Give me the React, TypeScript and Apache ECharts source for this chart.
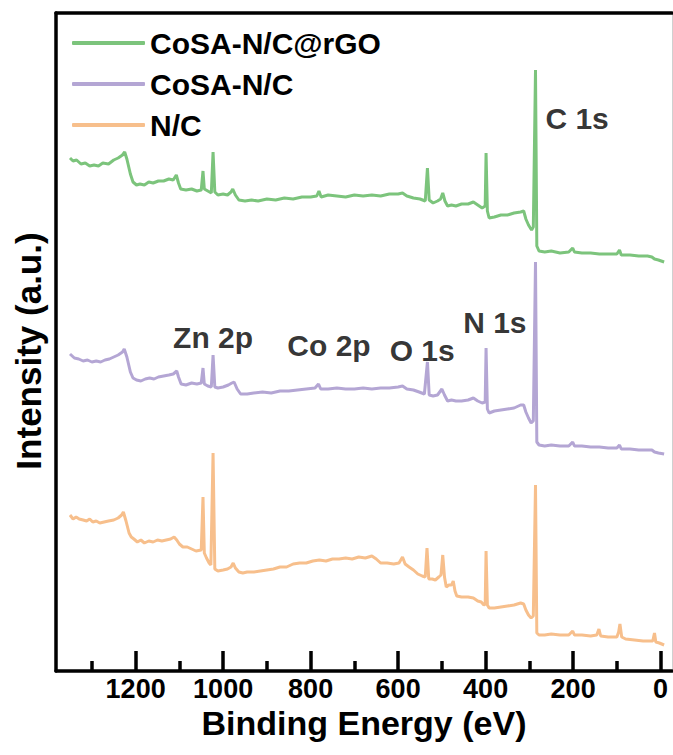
import React, { useEffect, useRef } from "react";
import * as echarts from "echarts";

const seriesNames = ["CoSA-N/C@rGO", "CoSA-N/C", "N/C"];
const seriesColors = ["#7cc47c", "#b4a6d4", "#f7bf8c"];

const majorTicks = [0, 200, 400, 600, 800, 1000, 1200];
const minorTicks = [100, 300, 500, 700, 900, 1100, 1300];

const peakLabels = ["C 1s", "Zn 2p", "Co 2p", "O 1s", "N 1s"];
const peakLabelPos = [
  [191, 553],
  [1023, 334],
  [758, 326],
  [545, 321],
  [379, 349],
];

// [binding energy (eV), intensity (a.u., stacked)]
const cosaRgo = [
  [1350, 513], [1343, 510], [1335, 511], [1325, 507], [1315, 508], [1305, 505], [1295, 506], [1285, 505],
  [1275, 508], [1262, 507], [1250, 511], [1240, 513], [1230, 516], [1225, 519], [1220, 512], [1212, 497],
  [1206, 489], [1198, 486], [1190, 487], [1180, 486], [1170, 489], [1160, 488], [1148, 490], [1136, 490],
  [1124, 492], [1114, 491], [1107, 496], [1102, 488], [1097, 482], [1085, 481], [1072, 482], [1060, 480],
  [1050, 481], [1046, 500], [1043, 482], [1035, 480], [1027, 478], [1023, 519], [1019, 479], [1012, 476],
  [1000, 477], [990, 476], [982, 479], [978, 482], [972, 476], [964, 471], [950, 470], [935, 471],
  [920, 470], [900, 472], [880, 471], [860, 473], [840, 472], [820, 474], [800, 474], [786, 475],
  [781, 480], [776, 474], [760, 476], [740, 475], [720, 474], [700, 476], [680, 475], [660, 476],
  [640, 475], [620, 477], [600, 477], [590, 478], [580, 475], [565, 473], [550, 472], [538, 470],
  [533, 503], [529, 471], [520, 468], [510, 470], [503, 472], [498, 478], [493, 470], [487, 465],
  [478, 466], [468, 465], [455, 467], [440, 467], [428, 469], [418, 466], [408, 463], [401, 465],
  [399, 518], [396, 460], [392, 453], [380, 454], [365, 456], [350, 456], [335, 458], [320, 459],
  [313, 460], [308, 452], [302, 446], [295, 441], [291, 444], [286, 601], [283, 425], [278, 420],
  [265, 419], [250, 420], [230, 418], [210, 419], [201, 423], [197, 419], [180, 418], [160, 418],
  [140, 417], [120, 417], [100, 417], [94, 421], [90, 416], [70, 416], [50, 415], [30, 415],
  [20, 414], [14, 412], [5, 411], [-8, 409],
];

const cosa = [
  [1350, 317], [1340, 313], [1330, 312], [1320, 310], [1310, 311], [1300, 309], [1290, 310], [1280, 309],
  [1270, 311], [1260, 312], [1250, 314], [1240, 316], [1230, 319], [1226, 322], [1220, 314], [1212, 299],
  [1206, 293], [1198, 291], [1188, 290], [1178, 292], [1168, 293], [1158, 292], [1148, 294], [1136, 295],
  [1124, 296], [1114, 297], [1106, 300], [1102, 294], [1096, 287], [1085, 286], [1072, 288], [1060, 287],
  [1050, 288], [1046, 303], [1043, 287], [1035, 285], [1027, 284], [1023, 316], [1019, 284], [1012, 283],
  [1000, 284], [988, 286], [980, 288], [975, 289], [968, 282], [960, 277], [945, 277], [930, 278],
  [910, 279], [890, 278], [870, 280], [850, 280], [830, 281], [810, 282], [790, 283], [782, 287],
  [777, 282], [760, 282], [740, 283], [720, 282], [700, 282], [680, 283], [660, 282], [640, 283],
  [620, 283], [600, 284], [590, 285], [580, 282], [565, 281], [552, 279], [540, 277], [533, 309],
  [529, 276], [520, 275], [510, 276], [500, 282], [494, 276], [487, 270], [478, 271], [468, 270],
  [455, 270], [440, 271], [428, 273], [418, 270], [408, 268], [401, 269], [399, 323], [396, 262],
  [392, 258], [380, 260], [365, 261], [350, 262], [335, 263], [320, 266], [313, 266], [308, 259],
  [302, 253], [296, 248], [291, 250], [286, 409], [283, 229], [278, 226], [265, 225], [250, 226],
  [230, 225], [210, 225], [201, 229], [197, 225], [180, 225], [160, 224], [140, 224], [120, 223],
  [100, 223], [94, 226], [90, 222], [70, 222], [50, 221], [30, 221], [20, 221], [14, 219],
  [5, 218], [-8, 217],
];

const nc = [
  [1350, 156], [1343, 152], [1336, 154], [1329, 152], [1320, 151], [1312, 150], [1305, 152], [1298, 149],
  [1290, 150], [1282, 148], [1272, 149], [1262, 150], [1250, 151], [1240, 153], [1232, 156], [1228, 159],
  [1222, 150], [1215, 138], [1210, 134], [1204, 132], [1196, 129], [1188, 131], [1180, 128], [1170, 130],
  [1160, 129], [1150, 131], [1140, 130], [1130, 131], [1120, 132], [1112, 134], [1106, 131], [1100, 127],
  [1092, 124], [1082, 124], [1072, 122], [1062, 120], [1050, 121], [1046, 174], [1043, 118], [1038, 113],
  [1032, 108], [1028, 106], [1023, 218], [1019, 102], [1012, 100], [1000, 101], [990, 102], [982, 104],
  [977, 108], [972, 103], [964, 99], [955, 98], [945, 99], [930, 99], [915, 100], [900, 101],
  [885, 102], [870, 104], [855, 104], [840, 107], [825, 108], [810, 108], [795, 110], [780, 111],
  [765, 110], [750, 112], [735, 112], [720, 113], [705, 112], [690, 114], [675, 113], [660, 115],
  [650, 112], [640, 108], [625, 108], [610, 107], [598, 108], [590, 114], [584, 107], [575, 104],
  [565, 101], [555, 97], [545, 95], [538, 94], [534, 123], [530, 92], [522, 92], [515, 91],
  [507, 94], [502, 96], [498, 116], [494, 94], [490, 84], [484, 86], [478, 86], [474, 90],
  [470, 80], [466, 75], [455, 74], [440, 74], [428, 73], [418, 70], [410, 69], [404, 66],
  [401, 67], [399, 120], [396, 66], [392, 63], [380, 63], [365, 64], [350, 65], [335, 66],
  [320, 68], [313, 67], [308, 61], [302, 56], [296, 53], [291, 55], [286, 186], [283, 38],
  [278, 36], [265, 36], [250, 37], [230, 36], [210, 36], [201, 40], [197, 36], [180, 36],
  [160, 35], [146, 36], [141, 42], [137, 35], [120, 34], [100, 34], [96, 39], [93, 47],
  [89, 34], [80, 32], [60, 31], [40, 30], [25, 30], [18, 30], [14, 38], [11, 29],
  [3, 28], [-8, 26],
];

const seriesData = [cosaRgo, cosa, nc];

export default function App() {
  const ref = useRef<HTMLDivElement>(null);
  useEffect(() => {
    const chart = echarts.init(ref.current!, null, { renderer: "svg" });
    const font = "Liberation Sans";
    const black = "#000";
    const xCommon = {
      type: "value",
      min: -26,
      max: 1382,
      inverse: true,
      splitLine: { show: false },
    };
    // y axis spans 658 units over 658 px, so tick lengths below are in px
    const tickLines = (values: number[], len: number) =>
      values.map((v) => [{ coord: [v, 0] }, { coord: [v, len] }]);

    chart.setOption({
      animation: false,
      backgroundColor: "#fff",
      grid: { left: 56, right: 1, top: 13, bottom: 84, containLabel: false },
      legend: {
        data: seriesNames,
        orient: "vertical",
        left: 72,
        top: 28,
        padding: 0,
        itemGap: 11,
        itemWidth: 73,
        itemHeight: 4,
        icon: "roundRect",
        selectedMode: false,
        textStyle: {
          fontFamily: font,
          fontWeight: "bold",
          fontSize: 30,
          lineHeight: 30,
          color: black,
        },
      },
      xAxis: [
        {
          ...xCommon,
          position: "bottom",
          name: "Binding Energy (eV)",
          nameLocation: "middle",
          nameGap: 35,
          nameMoveOverlap: false,
          nameTextStyle: {
            fontFamily: font,
            fontWeight: "bold",
            fontSize: 34,
            color: black,
          },
          axisLine: { show: true, onZero: false, lineStyle: { color: black, width: 3.5 } },
          axisTick: { show: false },
          axisLabel: {
            show: true,
            customValues: majorTicks,
            margin: 4,
            formatter: (v: number) => String(v),
            fontFamily: font,
            fontWeight: "bold",
            fontSize: 27,
            color: black,
          },
        },
        {
          ...xCommon,
          position: "top",
          axisLine: { show: true, onZero: false, lineStyle: { color: black, width: 3.5 } },
          axisTick: { show: false },
          axisLabel: { show: false },
        },
      ],
      yAxis: [
        {
          type: "value",
          min: 0,
          max: 658,
          position: "left",
          splitLine: { show: false },
          axisLine: { show: true, onZero: false, lineStyle: { color: black, width: 3.5 } },
          axisTick: { show: false },
          axisLabel: { show: false },
          name: "Intensity (a.u.)",
          nameLocation: "middle",
          nameRotate: 90,
          nameGap: 10,
          nameMoveOverlap: false,
          nameTextStyle: {
            fontFamily: font,
            fontWeight: "bold",
            fontSize: 35,
            color: black,
            padding: [0, 18, 0, 0],
          },
        },
        {
          type: "value",
          min: 0,
          max: 658,
          position: "right",
          splitLine: { show: false },
          axisLine: { show: true, onZero: false, lineStyle: { color: "#d0d0d0", width: 1 } },
          axisTick: { show: false },
          axisLabel: { show: false },
        },
      ],
      series: [
        ...seriesNames.map((name, i) => ({
          name,
          type: "line",
          xAxisIndex: 0,
          yAxisIndex: 0,
          data: seriesData[i],
          showSymbol: false,
          symbol: "none",
          color: seriesColors[i],
          lineStyle: { color: seriesColors[i], width: 3 },
          z: 3 - i,
        })),
        {
          name: "ticks",
          type: "line",
          xAxisIndex: 0,
          yAxisIndex: 0,
          data: [],
          symbol: "none",
          silent: true,
          z: 20,
          markLine: {
            silent: true,
            symbol: ["none", "none"],
            label: { show: false },
            lineStyle: { color: black, width: 3.5, type: "solid" },
            emphasis: { disabled: true },
            data: [...tickLines(majorTicks, 20), ...tickLines(minorTicks, 10)],
          },
        },
        {
          name: "peaks",
          type: "scatter",
          xAxisIndex: 0,
          yAxisIndex: 0,
          symbolSize: 1,
          silent: true,
          itemStyle: { color: "rgba(0,0,0,0)" },
          data: peakLabels.map((n, i) => ({ name: n, value: peakLabelPos[i] })),
          label: {
            show: true,
            position: "inside",
            formatter: "{b}",
            fontFamily: font,
            fontWeight: "bold",
            fontSize: 30,
            color: black,
          },
          z: 10,
        },
      ],
    });

    return () => chart.dispose();
  }, []);
  return (
    <div
      ref={ref}
      style={{ position: "fixed", left: 0, top: 0, width: 673, height: 755, background: "#fff" }}
    />
  );
}
